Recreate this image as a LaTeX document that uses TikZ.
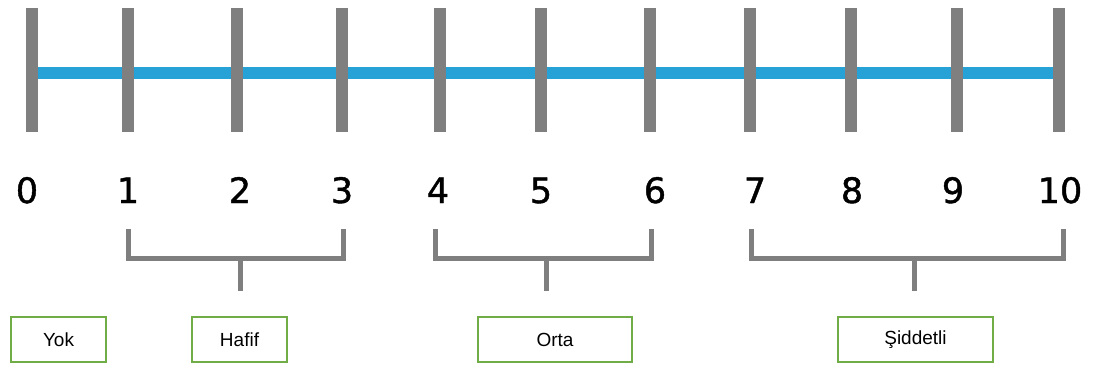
\documentclass[tikz,border=0pt]{standalone}
\usepackage{fontspec}
\setmainfont{DejaVu Sans}
\newfontfamily\numfont[FakeBold=1.2]{DejaVu Sans}
\newfontfamily\labelfont{Liberation Sans}
\definecolor{tickgray}{HTML}{7F7F7F}
\definecolor{lineblue}{HTML}{27A2D6}
\definecolor{boxgreen}{HTML}{70AD47}
\tikzset{
  tickline/.style={draw=tickgray, line width=12pt},
  scaleline/.style={draw=lineblue, line width=12pt},
  numlabel/.style={font=\numfont\fontsize{35}{35}\selectfont, inner sep=0pt, anchor=base},
  bracketline/.style={draw=tickgray, line width=5pt},
  catbox/.style={draw=boxgreen, line width=1.8pt, fill=white, font=\labelfont\fontsize{19}{19}\selectfont, inner sep=0pt, minimum height=45pt},
}
\begin{document}
\begin{tikzpicture}[x=1pt,y=-1pt]
\useasboundingbox (0,0) rectangle (1100,367);
% tick positions
\foreach \i/\x in {0/32,1/128,2/237,3/342,4/440,5/541,6/650,7/750,8/851,9/957,10/1059}{
  \coordinate (t\i top) at (\x,8);
  \coordinate (t\i bot) at (\x,132);
}
\draw[scaleline] (t0top |- 0,73) -- (t10top |- 0,73);
\foreach \i in {0,...,10}{
  \draw[tickline] (t\i top) -- (t\i bot);
}
% numbers
\foreach \i/\x in {0/27,1/128,2/240,3/342,4/438,5/541,6/655,7/755,8/852,9/953,10/1060}{
  \node[numlabel] (n\i) at (\x,203) {\i};
}
% brackets
\coordinate (b1l) at (128,229); \coordinate (b1r) at (343,229);
\coordinate (b1s) at (240,258); \coordinate (b1e) at (240,291);
\coordinate (b2l) at (435,229); \coordinate (b2r) at (651,229);
\coordinate (b2s) at (546,258); \coordinate (b2e) at (546,291);
\coordinate (b3l) at (751,229); \coordinate (b3r) at (1063,229);
\coordinate (b3s) at (914,258); \coordinate (b3e) at (914,291);
\foreach \k in {1,2,3}{
  \draw[bracketline] (b\k l) -- (b\k l |- b\k s) -- (b\k r |- b\k s) -- (b\k r);
  \draw[bracketline] (b\k s) -- (b\k e);
}
% category boxes
\node[catbox, minimum width=95pt] (yok) at (58.5,339.5) {Yok};
\node[catbox, minimum width=95pt] (hafif) at (239.5,339.5) {Hafif};
\node[catbox, minimum width=154pt] (orta) at (555,339.5) {Orta};
\node[catbox, minimum width=155pt] (siddetli) at (915.5,339.5) {Şiddetli};
\end{tikzpicture}
\end{document}
